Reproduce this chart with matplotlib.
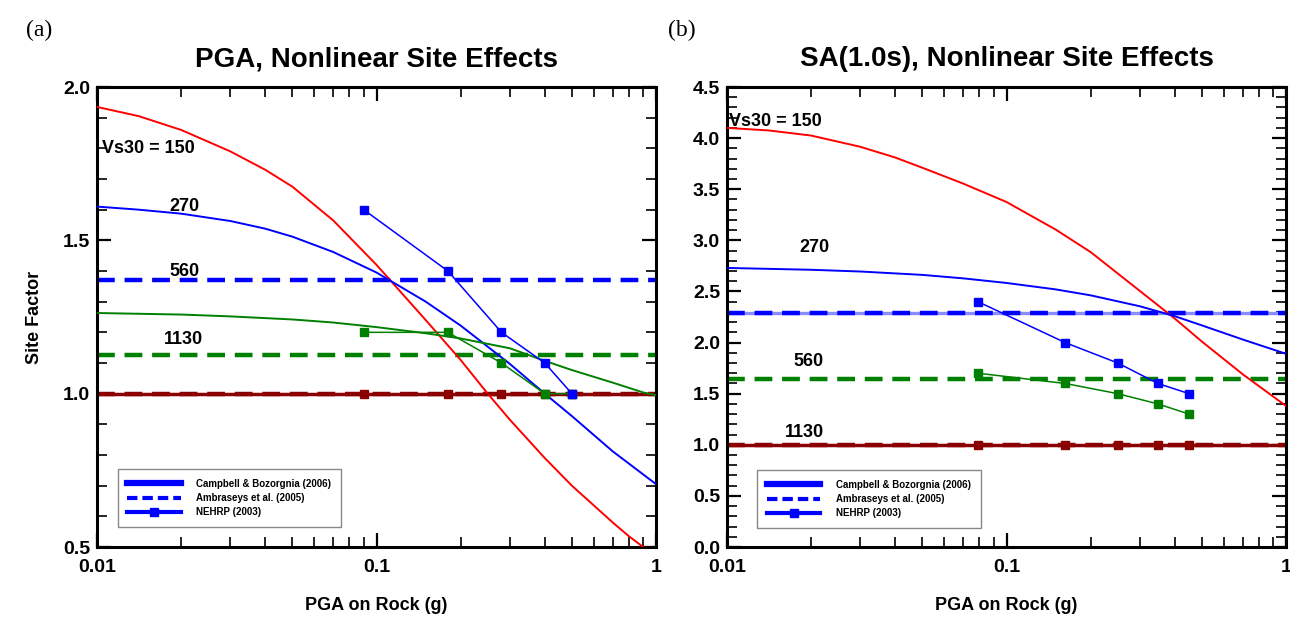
import numpy as np
import matplotlib
matplotlib.use('Agg')
import matplotlib.pyplot as plt
from matplotlib.ticker import MultipleLocator, FixedLocator, FixedFormatter, LogLocator, NullFormatter

plt.rcParams['font.family'] = ['Liberation Sans', 'DejaVu Sans']
plt.rcParams['font.weight'] = 'bold'
plt.rcParams['axes.titleweight'] = 'bold'
plt.rcParams['axes.labelweight'] = 'bold'

# ---- panel (a): PGA ----
a_red_x = [0.01, 0.0141, 0.02, 0.03, 0.04, 0.05, 0.07, 0.1, 0.15, 0.2, 0.25, 0.3, 0.4, 0.5, 0.6, 0.7, 0.8, 0.9]
a_red_y = [1.935, 1.905, 1.86, 1.79, 1.73, 1.675, 1.565, 1.42, 1.24, 1.11, 1.0, 0.915, 0.79, 0.70, 0.635, 0.58, 0.535, 0.50]
a_blue_x = [0.01, 0.0141, 0.02, 0.03, 0.04, 0.05, 0.07, 0.1, 0.15, 0.2, 0.3, 0.4, 0.5, 0.7, 1.0]
a_blue_y = [1.61, 1.60, 1.587, 1.563, 1.538, 1.512, 1.462, 1.395, 1.30, 1.222, 1.097, 1.0, 0.927, 0.812, 0.705]
a_green_x = [0.01, 0.02, 0.03, 0.05, 0.07, 0.1, 0.15, 0.2, 0.3, 0.4, 0.5, 0.7, 0.9, 1.0]
a_green_y = [1.263, 1.258, 1.252, 1.242, 1.232, 1.217, 1.197, 1.18, 1.148, 1.107, 1.077, 1.036, 1.004, 0.995]
a_amb = {'blue': 1.37, 'green': 1.125, 'darkred': 1.0}
a_nehrp_x = [0.09, 0.18, 0.28, 0.40, 0.50]
a_nehrp_blue = [1.6, 1.4, 1.2, 1.1, 1.0]
a_nehrp_green = [1.2, 1.2, 1.1, 1.0, 1.0]
a_nehrp_red = [1.0, 1.0, 1.0, 1.0, 1.0]

# ---- panel (b): SA(1.0s) ----
b_red_x = [0.01, 0.0141, 0.02, 0.03, 0.04, 0.05, 0.07, 0.1, 0.15, 0.2, 0.3, 0.4, 0.5, 0.7, 1.0]
b_red_y = [4.10, 4.075, 4.025, 3.915, 3.81, 3.71, 3.555, 3.375, 3.105, 2.885, 2.505, 2.235, 2.01, 1.69, 1.38]
b_blue_x = [0.01, 0.02, 0.03, 0.05, 0.07, 0.1, 0.15, 0.2, 0.3, 0.4, 0.5, 0.7, 1.0]
b_blue_y = [2.73, 2.712, 2.695, 2.662, 2.628, 2.583, 2.52, 2.462, 2.355, 2.258, 2.168, 2.03, 1.89]
b_amb = {'blue': 2.29, 'green': 1.64, 'darkred': 1.0}
b_nehrp_x = [0.079, 0.162, 0.25, 0.348, 0.45]
b_nehrp_blue = [2.4, 2.0, 1.8, 1.6, 1.5]
b_nehrp_green = [1.7, 1.6, 1.5, 1.4, 1.3]
b_nehrp_red = [1.0, 1.0, 1.0, 1.0, 1.0]

DRED = '#8b0000'
GREEN = '#008000'
BLUE = '#0000ff'

fig = plt.figure(figsize=(12.9, 6.21), dpi=100)
axA = fig.add_axes([97/1290, 74/621, 559/1290, 460/621])
axB = fig.add_axes([727/1290, 74/621, 559/1290, 460/621])


def style(ax, ymin, ymax):
    ax.set_xscale('log')
    ax.set_xlim(0.01, 1)
    ax.set_ylim(ymin, ymax)
    ax.xaxis.set_major_locator(FixedLocator([0.01, 0.1, 1]))
    ax.xaxis.set_major_formatter(FixedFormatter(['0.01', '0.1', '1']))
    ax.xaxis.set_minor_locator(LogLocator(base=10, subs=np.arange(2, 10)))
    ax.xaxis.set_minor_formatter(NullFormatter())
    ax.yaxis.set_major_locator(MultipleLocator(0.5))
    ax.yaxis.set_minor_locator(MultipleLocator(0.1))
    ax.yaxis.set_major_formatter(plt.FuncFormatter(lambda v, p: '%.1f' % v))
    ax.tick_params(which='both', direction='in', top=True, right=True, labelsize=14)
    ax.tick_params(which='major', length=10, width=1.6)
    ax.tick_params(which='minor', length=7, width=1.2)
    ax.tick_params(axis='x', pad=9)
    ax.tick_params(axis='y', pad=5)
    for s in ax.spines.values():
        s.set_linewidth(2.2)
    ax.set_xlabel('PGA on Rock (g)', fontsize=13, labelpad=15)


def draw(ax, cb, amb, nx, nb, ng, nr, light=False):
    # Ambraseys et al. dashed lines
    for c in ['blue', 'green', 'darkred']:
        col = {'blue': BLUE, 'green': GREEN, 'darkred': DRED}[c]
        if light and c == 'blue':
            ax.axhline(amb[c], color='#8c8cff', lw=2.4, zorder=2)
        ax.axhline(amb[c], color=col, lw=3.2, ls=(0, (4, 2.2)), zorder=2)
    ax.axhline(1.0, color=DRED, lw=2.5, zorder=2)
    # Campbell & Bozorgnia
    for (x, y, col) in cb:
        ax.plot(x, y, color=col, lw=1.4, zorder=3)
    # NEHRP
    for y, col in [(nr, DRED), (ng, GREEN), (nb, BLUE)]:
        ax.plot(nx, y, color=col, lw=1.1, marker='s', ms=6, mec=col, mfc=col, zorder=4)


draw(axA, [(a_red_x, a_red_y, 'red'), (a_blue_x, a_blue_y, BLUE), (a_green_x, a_green_y, GREEN)],
     a_amb, a_nehrp_x, a_nehrp_blue, a_nehrp_green, a_nehrp_red)
draw(axB, [(b_red_x, b_red_y, 'red'), (b_blue_x, b_blue_y, BLUE)],
     b_amb, b_nehrp_x, b_nehrp_blue, b_nehrp_green, b_nehrp_red, light=True)

style(axA, 0.5, 2.0)
style(axB, 0.0, 4.5)

axA.set_title('PGA, Nonlinear Site Effects', fontsize=20, pad=15)
axB.set_title('SA(1.0s), Nonlinear Site Effects', fontsize=20, pad=15)
axA.set_ylabel('Site Factor', fontsize=13, labelpad=14)

# curve labels
lab = dict(fontsize=13, zorder=5)
axA.text(0.0104, 1.80, 'Vs30 = 150', ha='left', va='center', **lab)
axA.text(0.0206, 1.61, '270', ha='center', va='center', **lab)
axA.text(0.0206, 1.40, '560', ha='center', va='center', **lab)
axA.text(0.0203, 1.175, '1130', ha='center', va='center', **lab)
axB.text(0.0102, 4.16, 'Vs30 = 150', ha='left', va='center', **lab)
axB.text(0.0206, 2.93, '270', ha='center', va='center', **lab)
axB.text(0.0195, 1.81, '560', ha='center', va='center', **lab)
axB.text(0.0190, 1.12, '1130', ha='center', va='center', **lab)

# legends
for ax, anchor in [(axA, (0.037, 0.043)), (axB, (0.054, 0.041))]:
    h1, = ax.plot([], [], color=BLUE, lw=4.5)
    h2, = ax.plot([], [], color=BLUE, lw=3, ls=(0, (2.5, 1.2)))
    h3, = ax.plot([], [], color=BLUE, lw=3, marker='s', ms=6)
    leg = ax.legend([h1, h2, h3], ['Campbell & Bozorgnia (2006)', 'Ambraseys et al. (2005)', 'NEHRP (2003)'],
                    loc='lower left', bbox_to_anchor=anchor, fontsize=7, handlelength=5.5,
                    borderpad=1.0, labelspacing=0.45, handletextpad=1.6, fancybox=False,
                    framealpha=1, borderaxespad=0)
    leg.get_frame().set_edgecolor('#888888')
    leg.get_frame().set_linewidth(1.0)

fig.text(26/1290, 1 - 30/621, '(a)', fontsize=17, family='Liberation Serif', weight='normal', va='center')
fig.text(668/1290, 1 - 30/621, '(b)', fontsize=17, family='Liberation Serif', weight='normal', va='center')

fig.savefig('out.png', dpi=100)
